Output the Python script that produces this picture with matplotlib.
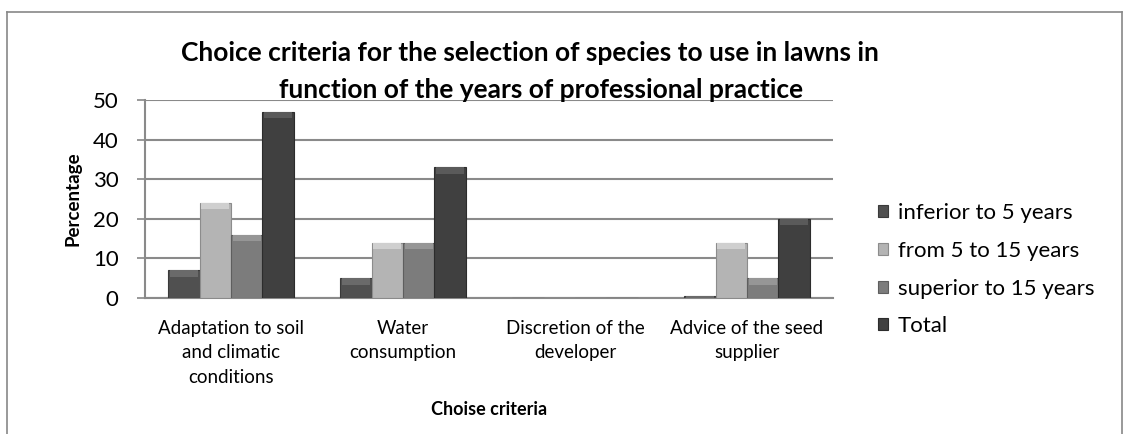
import matplotlib
matplotlib.use("Agg")
import matplotlib.pyplot as plt
import numpy as np
from matplotlib.lines import Line2D

categories = ["Adaptation to soil\nand climatic\nconditions", "Water\nconsumption",
              "Discretion of the\ndeveloper", "Advice of the seed\nsupplier"]
series_names = ["inferior to 5 years", "from 5 to 15 years", "superior to 15 years", "Total"]
inferior = [7, 5, 0, 0.6]
from5to15 = [24, 14, 0, 14]
superior = [16, 14, 0, 5]
total = [47, 33, 0, 20]
series = [inferior, from5to15, superior, total]
colors = ["#505050", "#b4b4b4", "#7c7c7c", "#404040"]
caps = ["#6a6a6a", "#cfcfcf", "#969696", "#5a5a5a"]
edges = ["#3a3a3a", "#8c8c8c", "#5e5e5e", "#2c2c2c"]
yticks = [0, 10, 20, 30, 40, 50]

plt.rcParams['font.family'] = ['Lato', 'DejaVu Sans']
fig = plt.figure(figsize=(11.31, 4.34), dpi=100)
W, H = 1131, 434
ax = fig.add_axes([145 / W, 1 - 298 / H, (833 - 145) / W, (298 - 100) / H])

x = np.arange(len(categories))
bw = 0.182
cap_h = 1.6
for i, (vals, c, cc, e) in enumerate(zip(series, colors, caps, edges)):
    offs = (i - 1.5) * bw
    ax.bar(x + offs, vals, width=bw, color=c, edgecolor=e, linewidth=0.8,
           label=series_names[i], zorder=3)
    v = np.array(vals, dtype=float)
    h = np.minimum(v, cap_h)
    ax.bar(x + offs, h, bottom=v - h, width=bw * 0.9, color=cc, linewidth=0, zorder=4)

ax.set_xlim(-0.5, len(categories) - 0.5)
ax.set_ylim(0, 50)
ax.set_yticks(yticks)
ax.set_xticks(x)
ax.set_xticklabels(categories, fontsize=13.5, linespacing=1.55)
ax.tick_params(axis='x', length=0, pad=15.5)
ax.tick_params(axis='y', labelsize=16, length=6, color="#888888", width=1.2, pad=13)
ax.yaxis.grid(True, color="#8a8a8a", linewidth=1.5, zorder=0)
for s in ["top", "right"]:
    ax.spines[s].set_visible(False)
for s in ["left", "bottom"]:
    ax.spines[s].set_color("#8a8a8a")
    ax.spines[s].set_linewidth(1.5)

ax.set_ylabel("Percentage", fontsize=13.5, fontweight="bold", labelpad=8)
ax.set_xlabel("Choise criteria", fontsize=13, fontweight="bold", labelpad=11)

fig.text(530 / W, 1 - 53 / H, "Choice criteria for the selection of species to use in lawns in",
         ha="center", va="center", fontsize=19, fontweight="bold")
fig.text(541 / W, 1 - 90 / H, "function of the years of professional practice",
         ha="center", va="center", fontsize=19, fontweight="bold")

leg = fig.legend(loc="upper left", bbox_to_anchor=(858 / W, 1 - 183 / H), frameon=False,
                 fontsize=16, handlelength=0.45, handleheight=0.45, handletextpad=0.45,
                 labelspacing=0.8)

# outer frame
fig.add_artist(Line2D([7 / W, 7 / W], [0, 1 - 12 / H], transform=fig.transFigure, color="#888888", lw=1.2))
fig.add_artist(Line2D([7 / W, 1122 / W], [1 - 12 / H, 1 - 12 / H], transform=fig.transFigure, color="#888888", lw=1.2))
fig.add_artist(Line2D([1122 / W, 1122 / W], [0, 1 - 12 / H], transform=fig.transFigure, color="#888888", lw=1.2))

fig.savefig("out.png", dpi=100)
